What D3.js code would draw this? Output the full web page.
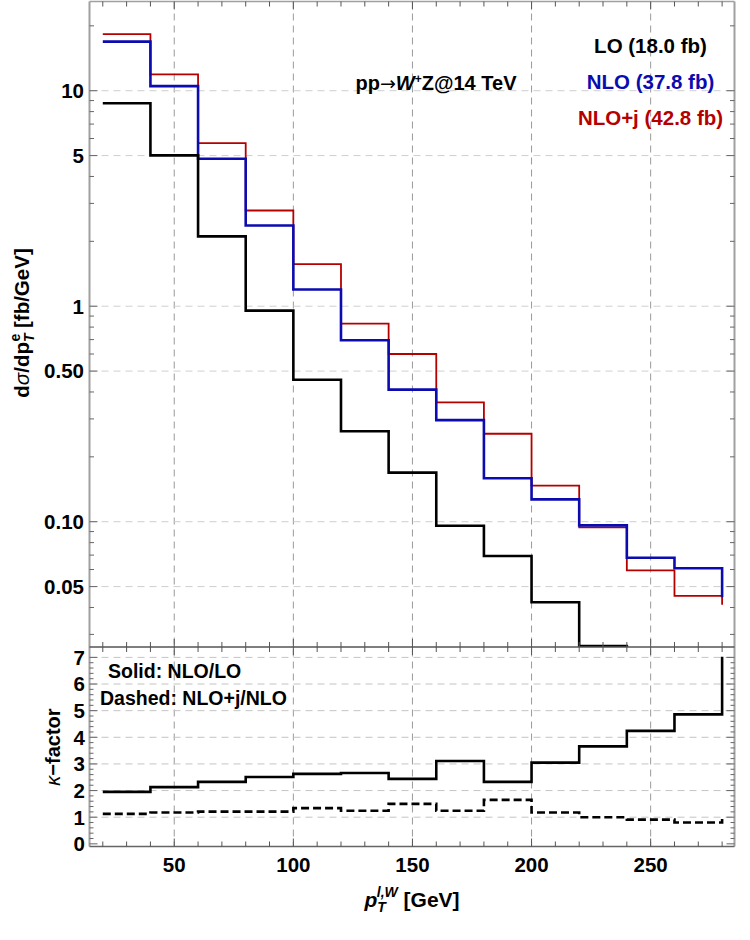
<!DOCTYPE html>
<html><head><meta charset="utf-8">
<script src="https://cdn.jsdelivr.net/npm/d3@7"></script>
<style>
html,body{margin:0;padding:0;background:#fff;}
svg text{font-family:"Liberation Sans",Arial,sans-serif;font-weight:bold;fill:#000;}
</style></head>
<body><svg id="c" width="750" height="940"></svg>
<script>
// ---- data ----
const binEdges = [20,40,60,80,100,120,140,160,180,200,220,240,260,280];
const loVals   = [8.74,5.01,2.11,0.954,0.456,0.263,0.169,0.0958,0.0693,0.0423,0.0265,0.0164,0.0124,0.0063];
const nloVals  = [16.9,10.5,4.83,2.37,1.196,0.695,0.410,0.296,0.159,0.127,0.0962,0.068,0.0608,0.0446];
const nlojVals = [18.3,11.9,5.71,2.78,1.567,0.830,0.600,0.358,0.256,0.147,0.0942,0.0594,0.0453,0.0412];
const kSolid   = [1.95,2.13,2.325,2.51,2.625,2.66,2.44,3.11,2.325,3.05,3.66,4.24,4.86,7.02];
const kDashed  = [1.125,1.175,1.21,1.21,1.34,1.24,1.5,1.24,1.65,1.175,1.0,0.91,0.80,0.93];
const xTickLabels = [50,100,150,200,250];
const yTopTickLabels = [10,5,1,0.5,0.1,0.05];
const yTopTickText = ["10","5","1","0.50","0.10","0.05"];
const yLowTickLabels = [0,1,2,3,4,5,6,7];
const legendItems = ["LO (18.0 fb)","NLO (37.8 fb)","NLO+j (42.8 fb)"];
const lowerNotes = ["Solid: NLO/LO","Dashed: NLO+j/NLO"];

const BLUE = "#0b0bb0", RED = "#b50000";
const svg = d3.select("#c");
const L = 89.5, R = 734.5, T = 1.5, M = 647, B = 846.5;

const x = d3.scaleLinear().domain([14.8,285.2]).range([90.4,734.5]);
const yTop = d3.scaleLog().domain([0.02622,25.94]).range([M,T]);
const yLow = d3.scaleLinear().domain([-0.1,7.39]).range([B,M]);

// clips
const defs = svg.append("defs");
defs.append("clipPath").attr("id","clipTop").append("rect").attr("x",L).attr("y",T).attr("width",R-L).attr("height",M-T);
defs.append("clipPath").attr("id","clipLow").append("rect").attr("x",L).attr("y",M).attr("width",R-L).attr("height",B-M);

// grids
const g = svg.append("g");
xTickLabels.forEach(v=>{
  g.append("line").attr("x1",x(v)).attr("x2",x(v)).attr("y1",T).attr("y2",B)
   .attr("stroke","#9a9a9a").attr("stroke-width",1).attr("stroke-dasharray","7,5");
});
yTopTickLabels.forEach(v=>{
  g.append("line").attr("x1",L).attr("x2",R).attr("y1",yTop(v)).attr("y2",yTop(v))
   .attr("stroke","#cfcfcf").attr("stroke-width",1).attr("stroke-dasharray","7,5");
});
yLowTickLabels.filter(v=>v>0).forEach(v=>{
  g.append("line").attr("x1",L).attr("x2",R).attr("y1",yLow(v)).attr("y2",yLow(v))
   .attr("stroke","#c4c4c4").attr("stroke-width",1).attr("stroke-dasharray","7,5");
});

// top panel lines
const pts = vals => binEdges.map((e,i)=>[e,vals[i]]);
const lineTop = d3.line().x(d=>x(d[0])).y(d=>yTop(d[1])).curve(d3.curveStepAfter);
const lineLow = d3.line().x(d=>x(d[0])).y(d=>yLow(d[1])).curve(d3.curveStepAfter);
const gt = svg.append("g").attr("clip-path","url(#clipTop)");
gt.append("path").attr("d",lineTop(pts(nlojVals))).attr("fill","none").attr("stroke",RED).attr("stroke-width",1.8);
gt.append("path").attr("d",lineTop(pts(nloVals))).attr("fill","none").attr("stroke",BLUE).attr("stroke-width",2.6);
gt.append("path").attr("d",lineTop(pts(loVals))).attr("fill","none").attr("stroke","#000").attr("stroke-width",2.6);

const gl = svg.append("g").attr("clip-path","url(#clipLow)");
gl.append("path").attr("d",lineLow(pts(kSolid))).attr("fill","none").attr("stroke","#000").attr("stroke-width",2.6);
gl.append("path").attr("d",lineLow(pts(kDashed))).attr("fill","none").attr("stroke","#000").attr("stroke-width",2.6).attr("stroke-dasharray","8,4");

// frames
const fr = svg.append("g");
fr.append("line").attr("x1",L).attr("x2",L).attr("y1",T).attr("y2",B).attr("stroke","#a0a0a0").attr("stroke-width",2);
fr.append("line").attr("x1",R).attr("x2",R).attr("y1",T).attr("y2",B).attr("stroke","#a0a0a0").attr("stroke-width",2);
fr.append("line").attr("x1",L).attr("x2",R).attr("y1",T).attr("y2",T).attr("stroke","#a0a0a0").attr("stroke-width",1.5);
fr.append("line").attr("x1",L).attr("x2",R).attr("y1",M).attr("y2",M).attr("stroke","#555").attr("stroke-width",1.6);
fr.append("line").attr("x1",L).attr("x2",R).attr("y1",B).attr("y2",B).attr("stroke","#666").attr("stroke-width",1.6);

// x ticks
const xt = d3.range(20,281,10);
xt.forEach(v=>{
  const major = v%50===0, len = major?8:5;
  const X = x(v);
  [[T,1],[M,-1],[M,1],[B,-1]].forEach(([y0,dir])=>{
    fr.append("line").attr("x1",X).attr("x2",X).attr("y1",y0).attr("y2",y0+dir*len).attr("stroke","#555").attr("stroke-width",1);
  });
});
// y ticks top (log)
const ytTicks = [];
[0.01,0.1,1,10].forEach(d=>{for(let k=1;k<=9;k++){const v=d*k; if(v>=0.0263 && v<=25.9) ytTicks.push(v);}});
ytTicks.forEach(v=>{
  const major = yTopTickLabels.some(t=>Math.abs(t-v)<1e-9);
  const len = major?8:4.5, Y = yTop(v);
  fr.append("line").attr("x1",L).attr("x2",L+len).attr("y1",Y).attr("y2",Y).attr("stroke","#666").attr("stroke-width",1);
  fr.append("line").attr("x1",R).attr("x2",R-len).attr("y1",Y).attr("y2",Y).attr("stroke","#666").attr("stroke-width",1);
});
// y ticks low
d3.range(0,7.01,0.2).forEach(v=>{
  const major = Math.abs(v-Math.round(v))<1e-6;
  const len = major?8:4, Y = yLow(v);
  fr.append("line").attr("x1",L).attr("x2",L+len).attr("y1",Y).attr("y2",Y).attr("stroke","#666").attr("stroke-width",1);
  fr.append("line").attr("x1",R).attr("x2",R-len).attr("y1",Y).attr("y2",Y).attr("stroke","#666").attr("stroke-width",1);
});

// tick labels
yTopTickLabels.forEach((v,i)=>{
  svg.append("text").attr("x",84).attr("y",yTop(v)).attr("dy","0.36em").attr("text-anchor","end")
    .attr("font-size",20.5).text(yTopTickText[i]);
});
yLowTickLabels.forEach(v=>{
  svg.append("text").attr("x",85).attr("y",yLow(v)).attr("dy","0.36em").attr("text-anchor","end")
    .attr("font-size",20.5).text(v);
});
xTickLabels.forEach(v=>{
  svg.append("text").attr("x",x(v)).attr("y",872).attr("text-anchor","middle").attr("font-size",20.5).text(v);
});

// legend
const legColors = ["#000",BLUE,RED];
const legY = [53,89,125];
legendItems.forEach((s,i)=>{
  svg.append("text").attr("x",650.5).attr("y",legY[i]).attr("text-anchor","middle").attr("font-size",20.5)
    .attr("fill",legColors[i]).style("fill",legColors[i]).text(s);
});

// process label
const pl = svg.append("text").attr("x",436).attr("y",90).attr("text-anchor","middle").attr("font-size",20);
pl.append("tspan").text("pp");
pl.append("tspan").style("font-family","'DejaVu Sans'").style("font-weight","normal").attr("font-size",19).text("\u2192");
pl.append("tspan").attr("font-style","italic").text("W");
pl.append("tspan").attr("font-size",12).attr("dy",-7).text("+");
pl.append("tspan").attr("dy",7).text("Z@14 TeV");

// lower panel notes
svg.append("text").attr("x",108).attr("y",678).attr("font-size",19.5).text(lowerNotes[0]);
svg.append("text").attr("x",100).attr("y",705).attr("font-size",19.5).text(lowerNotes[1]);

// y title top
const yt = svg.append("text").attr("transform","translate(29,323) rotate(-90)").attr("text-anchor","middle").attr("font-size",20.5);
yt.append("tspan").text("d");
yt.append("tspan").attr("font-style","italic").attr("font-weight","normal").text("\u03C3");
yt.append("tspan").text("/dp");
yt.append("tspan").attr("font-size",14).attr("font-style","italic").attr("dy",5).text("T");
yt.append("tspan").attr("font-size",14).attr("dx",-8).attr("dy",-14).text("e");
yt.append("tspan").attr("dy",9).text(" [fb/GeV]");

// k-factor title
const kt = svg.append("text").attr("transform","translate(60,747) rotate(-90)").attr("text-anchor","middle").attr("font-size",20);
kt.append("tspan").attr("font-style","italic").attr("font-weight","normal").text("\u03BA");
kt.append("tspan").text("\u2212factor");

// x title
const xtl = svg.append("text").attr("x",412).attr("y",907).attr("text-anchor","middle").attr("font-size",21);
xtl.append("tspan").attr("font-style","italic").text("p");
xtl.append("tspan").attr("font-style","italic").attr("font-size",14).attr("dy",5).text("T");
xtl.append("tspan").attr("font-style","italic").attr("font-size",14).attr("dx",-9).attr("dy",-15).text("l,W");
xtl.append("tspan").attr("dy",10).text(" [GeV]");
</script></body></html>
